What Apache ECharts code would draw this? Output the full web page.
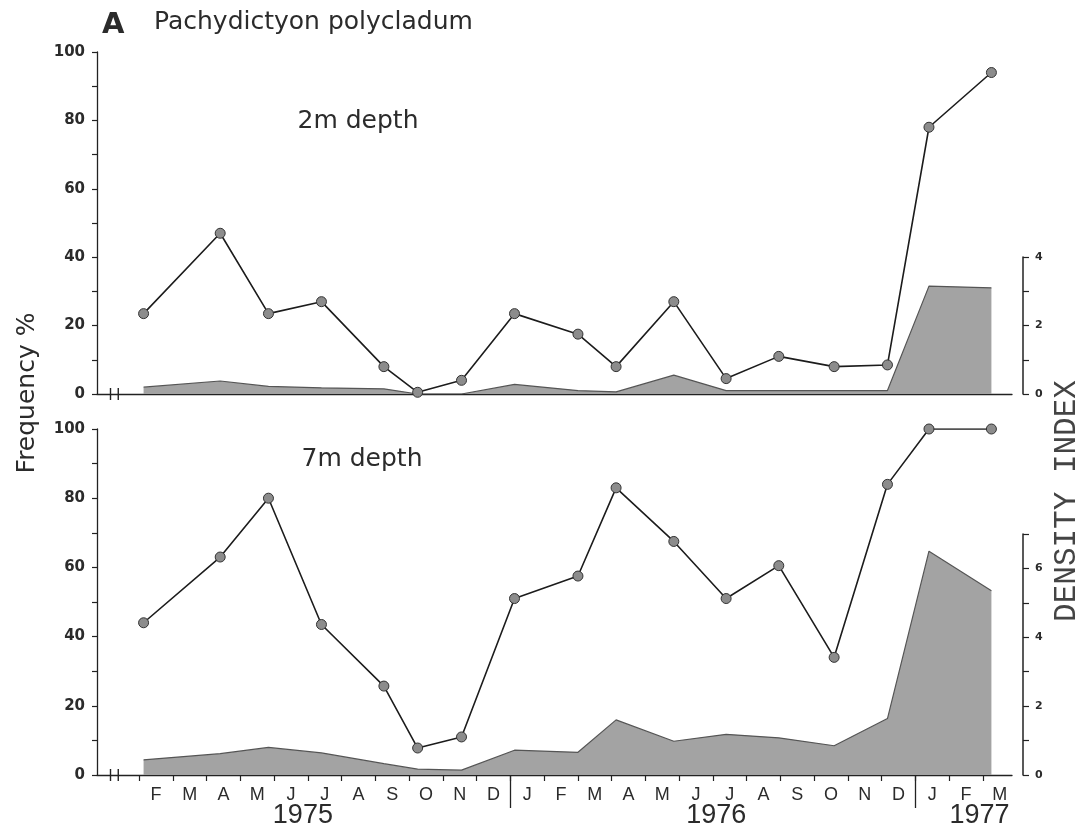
<!DOCTYPE html>
<html>
<head>
<meta charset="utf-8">
<script src="https://cdn.jsdelivr.net/npm/echarts@6/dist/echarts.min.js"></script>
<style>
  html, body { margin: 0; padding: 0; background: #fff; }
  #chart { width: 1090px; height: 830px; }
</style>
</head>
<body>
<div id="chart"></div>
<script>
// ---- data (months counted from 1 Jan 1975 = 0) ----
const sampleMonth = [1.13, 3.4, 4.83, 6.4, 8.25, 9.25, 10.55, 12.12, 14.0, 15.13, 16.84, 18.39, 19.95, 21.59, 23.17, 24.4, 26.25];
const freq2m    = [23.5, 47, 23.5, 27, 8, 0.5, 4, 23.5, 17.5, 8, 27, 4.5, 11, 8, 8.5, 78, 94];
const density2m = [0.2, 0.38, 0.22, 0.18, 0.15, 0, 0, 0.28, 0.1, 0.06, 0.55, 0.1, 0.1, 0.1, 0.1, 3.15, 3.1];
const freq7m    = [44, 63, 80, 43.5, 25.7, 7.8, 11, 51, 57.5, 83, 67.5, 51, 60.5, 34, 84, 100, 100];
const density7m = [0.44, 0.62, 0.8, 0.64, 0.33, 0.17, 0.14, 0.72, 0.66, 1.6, 0.98, 1.18, 1.08, 0.85, 1.64, 6.5, 5.35];
const monthLabels = ['F','M','A','M','J','J','A','S','O','N','D','J','F','M','A','M','J','J','A','S','O','N','D','J','F','M'];
const yearLabels = ['1975', '1976', '1977'];
const yearLabelAt = [5.85, 18.1, 25.9];
const yearDividers = [12, 24];
const freqTicks = [0, 20, 40, 60, 80, 100];

const pair = (xs, ys) => xs.map((x, i) => [x, ys[i]]);
const X_MIN = -0.25, X_MAX = 26.86;
const INK = '#222';
const TXT = '#2b2b2b';

const chart = echarts.init(document.getElementById('chart'), null, { renderer: 'canvas' });

function baseX(gridIndex, extra) {
  return Object.assign({
    type: 'value', gridIndex: gridIndex, min: X_MIN, max: X_MAX, position: 'bottom',
    axisLine: { show: true, onZero: false, lineStyle: { color: INK, width: 1.3 } },
    axisTick: { show: false }, axisLabel: { show: false }, splitLine: { show: false }
  }, extra || {});
}
function freqY(gridIndex) {
  return {
    type: 'value', gridIndex: gridIndex, min: 0, max: 100, interval: 10, position: 'left',
    axisLine: { show: true, onZero: false, lineStyle: { color: INK, width: 1.3 } },
    axisTick: { show: true, length: 5, lineStyle: { color: INK, width: 1.2 } },
    axisLabel: {
      margin: 12, color: TXT, fontFamily: 'DejaVu Sans', fontWeight: 'bold', fontSize: 15,
      formatter: v => (freqTicks.indexOf(v) >= 0 ? String(v) : '')
    },
    splitLine: { show: false }
  };
}
function densY(gridIndex, max) {
  return {
    type: 'value', gridIndex: gridIndex, min: 0, max: max, interval: 1, position: 'right', offset: 11,
    axisLine: { show: true, onZero: false, lineStyle: { color: INK, width: 1.5 } },
    axisTick: { show: true, length: 6, lineStyle: { color: INK, width: 1.2 } },
    axisLabel: {
      margin: 12, color: TXT, fontFamily: 'DejaVu Sans', fontWeight: 'bold', fontSize: 11,
      formatter: v => (v % 2 === 0 ? String(v) : '')
    },
    splitLine: { show: false }
  };
}
function freqSeries(xi, yi, values) {
  return {
    type: 'line', xAxisIndex: xi, yAxisIndex: yi, z: 5,
    data: pair(sampleMonth, values),
    symbol: 'circle', symbolSize: 10,
    itemStyle: { color: '#8c8c8c', borderColor: '#333', borderWidth: 1 },
    lineStyle: { color: '#1c1c1c', width: 1.6 }
  };
}
function densSeries(xi, yi, values) {
  return {
    type: 'line', xAxisIndex: xi, yAxisIndex: yi, z: 1,
    data: pair(sampleMonth, values),
    symbol: 'none',
    lineStyle: { color: '#555', width: 1.2 },
    areaStyle: { color: '#a3a3a3', opacity: 1 }
  };
}
function breakSeries(xi, yi) {
  return {
    type: 'custom', xAxisIndex: xi, yAxisIndex: yi, z: 6, silent: true, clip: false,
    data: [[0, 0]],
    renderItem: function (params, api) {
      const a = api.coord([0.15, 0]), b = api.coord([0.38, 0]);
      const bar = p => ({ type: 'line', shape: { x1: p[0], y1: p[1] - 6, x2: p[0], y2: p[1] + 6 },
                          style: { stroke: INK, lineWidth: 1.4 } });
      return { type: 'group', children: [bar(a), bar(b)] };
    }
  };
}

const option = {
  animation: false,
  backgroundColor: '#fff',
  grid: [
    { left: 97, top: 52, width: 915, height: 342 },
    { left: 97, top: 257, width: 915, height: 137 },
    { left: 97, top: 429, width: 915, height: 346 },
    { left: 97, top: 534, width: 915, height: 241 }
  ],
  xAxis: [
    baseX(0),
    baseX(1, { show: false }),
    baseX(2, {
      axisTick: { show: true, length: 6, customValues: monthLabels.map((_, i) => i + 1),
                  lineStyle: { color: INK, width: 1.2 } },
      axisLabel: { show: true, margin: 11, color: TXT, fontFamily: 'Liberation Sans', fontSize: 18,
                   customValues: monthLabels.map((_, i) => i + 1.5),
                   formatter: v => monthLabels[Math.round(v - 1.5)] || '' }
    }),
    baseX(3, { show: false }),
    baseX(2, {
      axisLine: { show: false, onZero: false },
      axisTick: { show: true, length: 33, customValues: yearDividers, lineStyle: { color: INK, width: 1.3 } },
      axisLabel: { show: true, margin: 27, color: TXT, fontFamily: 'Liberation Sans', fontSize: 27,
                   customValues: yearLabelAt,
                   formatter: v => yearLabels[yearLabelAt.indexOf(v)] || '' }
    })
  ],
  yAxis: [freqY(0), densY(1, 4), freqY(2), densY(3, 7)],
  series: [
    densSeries(1, 1, density2m),
    freqSeries(0, 0, freq2m),
    densSeries(3, 3, density7m),
    freqSeries(2, 2, freq7m),
    breakSeries(0, 0),
    breakSeries(2, 2)
  ],
  graphic: [
    { type: 'text', left: 102, top: 11, style: { text: 'A', fill: TXT, font: 'bold 29px "DejaVu Sans"' } },
    { type: 'text', left: 154, top: 10, style: { text: 'Pachydictyon polycladum', fill: TXT, font: '25px "DejaVu Sans"' } },
    { type: 'text', x: 358, y: 121, style: { text: '2m depth', fill: TXT, font: '25px "DejaVu Sans"', align: 'center', verticalAlign: 'middle' } },
    { type: 'text', x: 362, y: 459, style: { text: '7m depth', fill: TXT, font: '25px "DejaVu Sans"', align: 'center', verticalAlign: 'middle' } },
    { type: 'text', x: 27, y: 393, rotation: Math.PI / 2, style: { text: 'Frequency %', fill: TXT, font: '25px "DejaVu Sans"', align: 'center', verticalAlign: 'middle' } },
    { type: 'text', x: 1067, y: 501, rotation: Math.PI / 2, style: { text: 'DENSITY INDEX', fill: '#444', font: '31px "Liberation Mono"', align: 'center', verticalAlign: 'middle' } }
  ]
};
chart.setOption(option);
</script>
</body>
</html>
